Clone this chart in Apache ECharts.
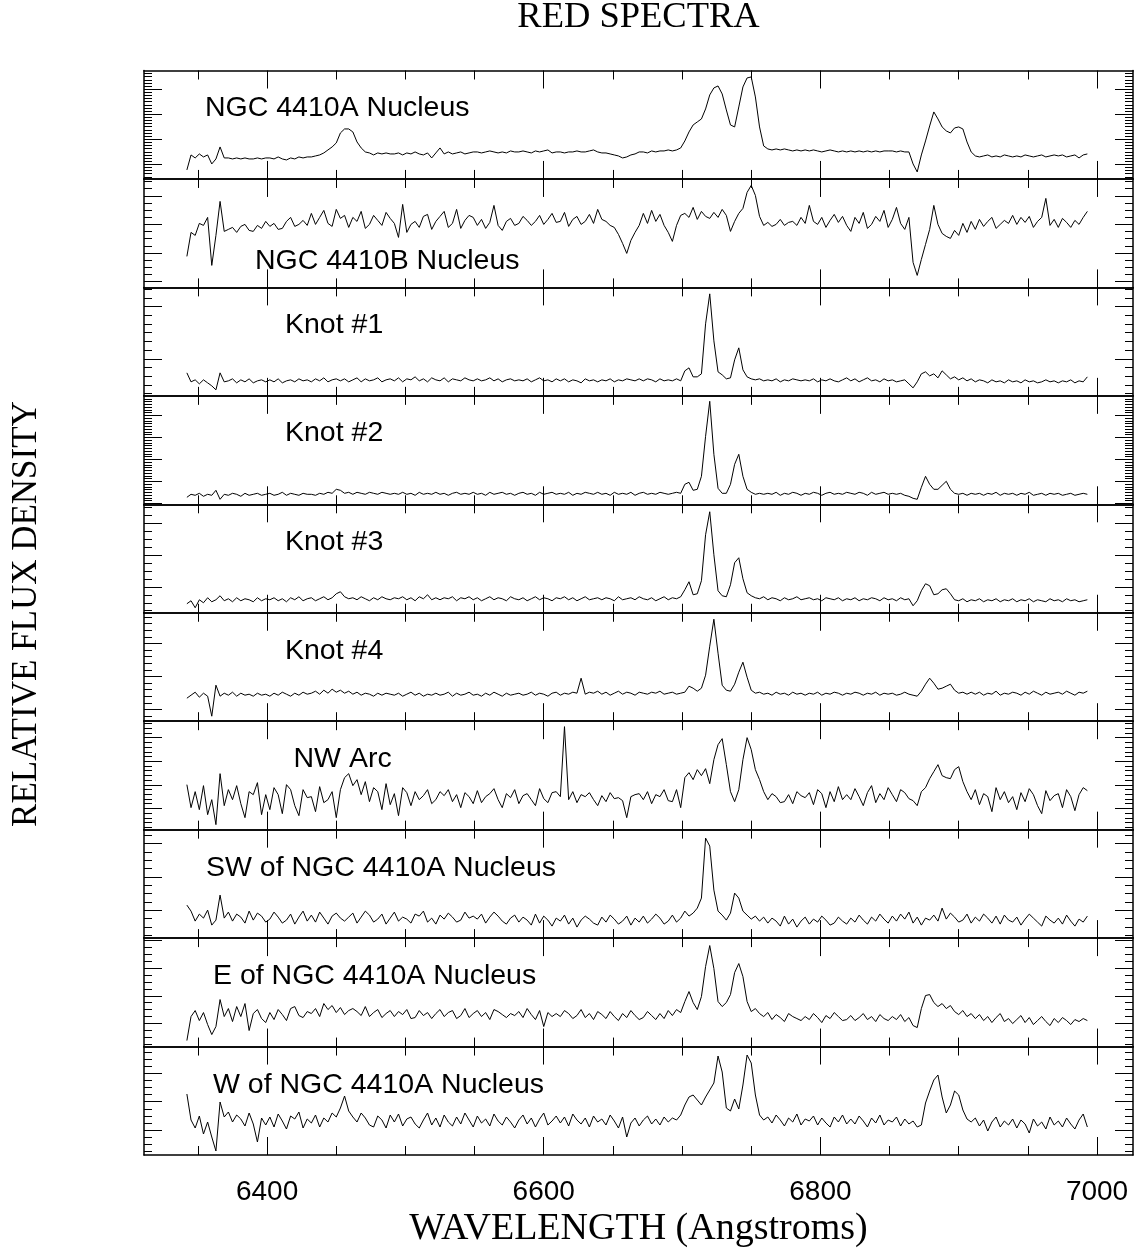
<!DOCTYPE html>
<html>
<head>
<meta charset="utf-8">
<script src="https://cdn.jsdelivr.net/npm/echarts@6/dist/echarts.min.js"></script>
<style>
html,body{margin:0;padding:0;background:#fff;}
#chart{width:1138px;height:1252px;}
</style>
</head>
<body>
<div id="chart"></div>
<script>
// ---------------- DATA ----------------
const chartTitle = 'RED SPECTRA';
const xAxisTitle = 'WAVELENGTH (Angstroms)';
const yAxisTitle = 'RELATIVE FLUX DENSITY';

const wavelengths = [
6342,6345,6348,6351,6354,6357,6360,6363,6366,6369,
6372,6375,6378,6381,6384,6387,6390,6393,6396,6399,
6402,6405,6408,6411,6414,6417,6420,6423,6426,6429,
6432,6435,6438,6441,6444,6447,6450,6453,6456,6459,
6462,6465,6468,6471,6474,6477,6480,6483,6486,6489,
6492,6495,6498,6501,6504,6507,6510,6513,6516,6519,
6522,6525,6528,6531,6534,6537,6540,6543,6546,6549,
6552,6555,6558,6561,6564,6567,6570,6573,6576,6579,
6582,6585,6588,6591,6594,6597,6600,6603,6606,6609,
6612,6615,6618,6621,6624,6627,6630,6633,6636,6639,
6642,6645,6648,6651,6654,6657,6660,6663,6666,6669,
6672,6675,6678,6681,6684,6687,6690,6693,6696,6699,
6702,6705,6708,6711,6714,6717,6720,6723,6726,6729,
6732,6735,6738,6741,6744,6747,6750,6753,6756,6759,
6762,6765,6768,6771,6774,6777,6780,6783,6786,6789,
6792,6795,6798,6801,6804,6807,6810,6813,6816,6819,
6822,6825,6828,6831,6834,6837,6840,6843,6846,6849,
6852,6855,6858,6861,6864,6867,6870,6873,6876,6879,
6882,6885,6888,6891,6894,6897,6900,6903,6906,6909,
6912,6915,6918,6921,6924,6927,6930,6933,6936,6939,
6942,6945,6948,6951,6954,6957,6960,6963,6966,6969,
6972,6975,6978,6981,6984,6987,6990,6993];

const panelLabels = [
'NGC 4410A Nucleus','NGC 4410B Nucleus','Knot #1','Knot #2','Knot #3',
'Knot #4','NW Arc','SW of NGC 4410A Nucleus','E of NGC 4410A Nucleus','W of NGC 4410A Nucleus'];

// relative flux density (arbitrary units, each panel spans 0 .. 108.45)
const nucleusA = [
9,24,21,25,22,24,15,20,32,21,
21,20,21,20,21,20,20,21,20,21,
21,20,22,20,19,21,20,22,21,22,
22,23,24,26,29,32,36,46,50,50,
47,37,31,27,26,24,26,25,26,25,
25,26,24,26,25,27,25,24,26,21,
26,31,25,27,25,26,27,25,26,27,
27,26,27,28,27,26,27,26,28,27,
27,28,27,26,28,27,28,29,26,27,
27,26,27,27,28,27,27,28,29,27,
26,26,25,24,23,21,22,24,25,27,
27,26,28,27,28,28,29,28,29,31,
38,47,54,57,60,70,84,91,93,85,
69,54,52,72,92,101,102,82,52,33,
30,29,30,29,30,29,28,29,28,29,
28,29,28,27,28,29,28,27,28,27,
28,27,28,27,28,27,28,27,28,28,
28,27,28,27,27,15,7,24,38,53,
67,60,52,48,46,51,52,50,37,27,
23,22,23,24,22,23,22,24,23,22,
23,22,24,23,22,23,24,22,23,24,
23,24,22,23,24,21,24,25];

const nucleusB = [
31,55,52,64,62,70,22,52,86,56,
58,60,55,61,63,57,56,62,59,66,
61,64,58,59,66,70,61,63,67,62,
74,63,70,77,64,61,78,69,72,60,
70,66,76,59,63,72,67,62,75,69,
64,50,83,55,63,66,60,71,73,58,
66,71,76,60,64,78,59,67,72,70,
62,68,59,65,82,62,57,66,69,62,
64,71,67,62,66,72,63,68,74,65,
66,75,61,68,71,63,66,73,64,78,
68,66,62,60,53,44,34,47,55,62,
74,64,77,66,73,62,55,46,62,72,
74,70,80,68,76,71,69,75,70,78,
72,56,66,74,79,95,102,92,71,62,
65,61,63,68,62,65,66,62,70,64,
82,66,63,70,60,67,73,65,71,62,
56,70,64,75,59,63,71,66,77,60,
68,80,64,58,70,25,12,28,43,58,
82,63,54,51,49,57,52,64,55,66,
58,68,61,66,70,59,63,67,64,72,
63,70,65,71,60,66,70,89,62,68,
60,69,65,60,67,63,70,76];

const knot1 = [
23,14,16,12,16,13,10,6,23,14,
15,17,13,16,14,17,13,15,16,14,
16,14,17,13,15,16,14,17,15,16,
14,17,15,18,14,16,17,15,17,14,
16,18,14,17,15,16,18,14,16,17,
15,18,14,17,16,19,15,17,14,18,
16,15,18,14,17,16,15,18,16,15,
17,15,16,18,15,17,14,16,17,15,
16,15,17,14,16,18,15,16,14,17,
15,17,14,16,15,13,17,15,16,14,
16,15,17,14,16,15,17,16,15,17,
15,17,16,14,17,15,16,15,17,15,
25,28,19,19,22,72,102,55,24,21,
17,18,36,48,26,19,17,16,17,15,
16,15,17,14,16,15,17,16,15,16,
15,17,14,16,15,17,15,14,16,18,
15,17,14,16,18,15,16,14,17,15,
16,14,15,16,12,8,14,22,24,20,
22,18,25,21,17,19,16,18,15,17,
14,16,15,13,16,14,15,13,16,14,
15,13,16,14,15,13,14,16,14,15,
13,15,14,16,13,15,14,19];

const knot2 = [
7,10,9,11,8,10,9,14,5,10,
9,11,10,8,11,9,10,11,9,10,
11,9,10,12,9,11,10,9,11,10,
10,9,11,10,12,11,15,14,11,12,
10,12,11,10,12,11,10,12,11,10,
11,10,12,10,11,9,12,10,11,10,
12,10,11,9,11,12,10,11,10,12,
10,11,9,12,10,11,12,10,11,9,
11,12,10,11,9,12,10,11,12,10,
11,10,12,9,11,10,12,11,10,12,
10,11,9,12,10,11,10,12,9,11,
12,10,11,10,12,11,10,11,12,11,
20,22,14,15,28,68,103,50,16,11,
11,20,40,50,28,15,12,10,11,10,
11,10,12,9,11,10,12,11,9,11,
10,12,11,9,11,12,10,11,10,12,
11,10,12,11,9,12,10,11,12,10,
11,10,11,9,8,6,5,17,28,20,
15,15,19,23,15,11,10,11,9,11,
10,11,9,11,10,12,9,11,10,11,
9,11,10,12,9,10,11,9,11,10,
11,9,10,11,9,10,11,10];

const knot3 = [
9,12,5,13,10,15,11,13,17,12,
14,11,15,12,14,13,11,15,12,14,
13,15,12,14,11,15,13,16,12,14,
15,12,14,16,13,15,19,21,16,14,
15,13,16,14,12,15,13,16,14,13,
15,14,16,13,15,12,16,14,18,13,
15,13,15,14,16,12,15,14,16,13,
15,12,14,16,13,15,14,12,16,14,
13,15,12,14,16,13,15,14,12,15,
14,16,13,15,12,14,16,13,14,15,
13,15,14,12,16,13,14,15,13,16,
14,13,15,12,14,16,13,15,14,16,
23,31,18,19,32,78,101,58,22,17,
16,28,50,55,34,20,17,15,14,16,
13,15,14,12,15,13,14,16,13,14,
15,13,14,12,15,14,13,15,12,14,
13,15,12,14,13,15,14,12,15,13,
14,12,15,13,14,7,12,22,29,27,
18,19,23,24,19,13,12,14,11,13,
12,14,11,13,12,14,11,13,12,14,
11,13,12,14,11,13,12,11,14,12,
13,11,14,12,13,11,12,13];

const knot4 = [
23,26,29,24,28,25,5,36,25,28,
26,29,25,28,26,27,25,28,26,27,
25,28,26,29,27,25,28,26,29,27,
28,30,27,31,28,32,29,31,28,30,
27,29,26,28,27,25,28,26,28,27,
26,28,25,27,29,26,28,25,27,26,
28,26,27,29,25,28,26,27,29,26,
27,25,28,26,29,27,25,28,26,27,
28,26,27,29,26,28,27,25,28,29,
26,28,27,29,28,43,27,29,28,30,
27,29,26,28,30,27,29,28,26,29,
28,27,29,28,30,27,28,29,27,28,
29,35,33,30,33,46,75,102,68,36,
31,30,37,49,59,44,31,28,29,27,
28,26,29,27,28,26,29,27,28,26,
28,27,29,26,28,27,29,28,26,28,
27,29,28,26,28,27,29,26,28,27,
28,26,27,29,27,26,25,30,37,43,
38,32,33,35,37,31,28,29,27,29,
27,29,26,28,27,30,26,28,27,29,
28,26,29,27,30,28,26,29,27,28,
29,27,30,28,26,29,28,30];

const nwArc = [
45,22,38,20,44,15,30,5,56,24,
40,30,44,26,12,38,35,47,15,35,
20,42,35,16,45,40,24,14,40,32,
33,18,43,27,30,38,12,40,52,56,
44,50,35,48,28,42,38,20,46,25,
36,14,42,37,24,38,30,34,40,26,
30,38,34,40,28,35,22,37,33,26,
39,27,33,36,41,30,22,36,32,40,
26,34,36,30,24,41,31,27,37,38,
33,103,30,38,27,35,33,37,30,24,
34,28,37,31,32,29,12,33,35,36,
30,38,26,35,33,40,29,28,40,22,
52,57,50,60,54,61,46,70,85,91,
65,38,28,40,70,92,80,60,50,38,
30,36,33,27,28,35,26,38,34,32,
37,25,40,36,22,38,28,43,30,35,
30,41,33,24,37,44,27,36,30,42,
35,28,40,37,31,29,24,38,42,51,
58,65,54,52,51,60,63,48,38,30,
40,25,36,33,18,42,30,38,27,33,
20,37,28,41,35,24,16,39,29,34,
36,22,40,33,19,35,42,39];

const swNucleus = [
33,27,17,24,20,28,13,18,43,20,
26,17,24,21,15,27,18,25,22,16,
19,26,21,15,18,24,14,21,27,17,
23,16,26,20,14,22,25,20,17,21,
25,15,21,27,23,16,19,24,14,20,
26,17,21,19,15,24,22,27,16,20,
14,23,19,25,21,16,18,26,20,22,
19,24,15,21,26,22,17,14,20,23,
16,21,18,13,24,15,22,18,12,20,
17,23,14,20,11,18,22,19,15,13,
21,16,23,19,14,17,22,13,20,16,
22,15,19,24,20,14,17,23,16,20,
27,22,25,30,40,100,92,48,27,23,
18,25,45,40,27,23,19,22,17,21,
15,20,17,12,22,14,19,11,17,21,
14,19,16,22,18,13,15,21,17,14,
20,16,23,18,14,21,17,24,19,15,
22,17,24,19,26,15,21,13,20,18,
23,17,30,19,25,21,16,18,24,15,
21,17,24,20,15,22,14,23,18,16,
21,13,19,24,20,16,12,22,18,15,
20,14,23,17,12,19,16,22];

const eNucleus = [
6,30,36,26,34,22,12,20,47,30,
38,25,40,30,43,16,33,37,28,24,
34,27,37,32,26,38,40,31,29,35,
33,38,30,43,37,41,34,39,32,36,
38,35,31,40,30,34,37,29,33,36,
30,35,32,37,28,29,36,31,34,28,
33,37,30,34,36,28,31,38,29,33,
36,30,34,27,37,35,32,29,33,31,
35,29,38,32,27,36,20,34,30,33,
30,36,33,28,31,37,29,33,27,35,
32,28,35,30,26,33,29,36,31,27,
29,35,31,27,33,28,36,31,37,34,
45,55,44,37,50,80,101,78,45,40,
44,52,74,83,70,45,35,38,33,30,
34,27,32,29,25,33,30,28,26,30,
27,33,29,24,31,28,34,30,26,27,
31,26,29,33,27,30,25,32,28,26,
30,27,32,25,29,21,19,38,51,52,
44,40,43,38,41,35,32,36,30,33,
28,32,26,30,24,29,33,25,28,23,
27,31,24,29,22,26,30,25,21,28,
24,29,26,22,27,25,28,26];

const wNucleus = [
61,35,27,39,21,33,18,4,53,38,
43,33,40,36,29,42,31,13,37,30,
38,28,41,34,26,39,36,43,27,36,
32,40,28,37,33,42,38,47,59,44,
38,33,42,37,30,28,39,35,27,40,
33,41,29,36,38,31,27,35,42,30,
37,28,40,33,29,38,31,42,35,28,
39,32,36,29,41,34,30,38,33,27,
35,40,31,37,28,36,42,30,34,39,
32,38,29,41,35,31,37,28,39,33,
36,30,40,34,27,38,18,32,37,29,
35,39,31,36,30,38,33,37,35,40,
50,58,60,55,50,58,65,72,99,83,
47,44,56,46,70,100,92,60,40,35,
38,32,40,35,29,37,33,41,30,36,
34,39,30,37,32,28,38,33,40,31,
36,31,39,34,28,37,32,40,30,35,
33,38,29,36,31,34,28,30,52,64,
75,80,58,42,50,64,60,45,36,33,
37,29,35,24,33,38,28,34,30,36,
27,35,31,22,36,29,33,26,38,30,
34,28,37,31,26,35,41,28];

const xTickMajor = [6400, 6600, 6800, 7000];
const xTickMinor = [6350, 6450, 6500, 6550, 6650, 6700, 6750, 6850, 6900, 6950];
const xTickLabels = ['6400', '6600', '6800', '7000'];

const spectra = [nucleusA, nucleusB, knot1, knot2, knot3, knot4, nwArc, swNucleus, eNucleus, wNucleus];

// ---------------- LAYOUT ----------------
const PLOT_LEFT = 144, PLOT_RIGHT = 1133, PLOT_TOP = 70.5, PANEL_H = 108.45;
const X_MIN = 6311, X_MAX = 7026;
const Y_MAX = 108.45;
const yTickLayout = [
  {first:14.7, step:25, sub:8},
  {first:5.8, step:28.6, sub:4},
  {first:37, step:52.3, sub:6},
  {first:23, step:22, sub:8},
  {first:25.8, step:31.7, sub:4},
  {first:11.7, step:33, sub:5},
  {first:21.2, step:23.6, sub:5},
  {first:28, step:33.3, sub:4},
  {first:23.2, step:27.6, sub:4},
  {first:25, step:28.3, sub:4}
];
const labelPos = [
  [205,108],[255,261],[285,325],[285,433.5],[285,542],
  [285,651],[293.5,759],[206,868],[213,976],[213,1085]
];

function yTicks(spec){
  const maj = [], min = [];
  const ms = spec.step / spec.sub;
  for (let k = -60; k <= 60; k++){
    const v = +(spec.first + k*ms).toFixed(3);
    if (v <= 0.8 || v >= Y_MAX - 0.8) continue;
    if (((k % spec.sub) + spec.sub) % spec.sub === 0) maj.push(v); else min.push(v);
  }
  return {maj, min};
}

const grids = [], xAxes = [], yAxes = [], series = [], graphics = [];
const black = '#000';
const sansFont = '"Liberation Sans", Arial, sans-serif';
const serifFont = '"Liberation Serif", "Times New Roman", serif';
for (let i = 0; i < 10; i++){
  grids.push({left: PLOT_LEFT, width: PLOT_RIGHT - PLOT_LEFT, top: PLOT_TOP + i*PANEL_H, height: PANEL_H, containLabel:false});
  const isLast = (i === 9);
  const baseX = {gridIndex:i, type:'value', min:X_MIN, max:X_MAX, splitLine:{show:false}, axisPointer:{show:false}};
  xAxes.push(Object.assign({}, baseX, {position:'bottom',
    axisLine:{show:true, onZero:false, lineStyle:{color:black, width:1.5}},
    axisTick:{show:true, inside:true, length:18, customValues:xTickMajor, lineStyle:{color:black, width:1}},
    axisLabel:{show:isLast, customValues:xTickMajor, formatter:(v)=>{const j = xTickMajor.indexOf(Math.round(v)); return j>=0 ? xTickLabels[j] : '';},
      color:black, fontSize:28, fontFamily:sansFont, margin:23}}));
  xAxes.push(Object.assign({}, baseX, {position:'bottom',
    axisLine:{show:false, onZero:false},
    axisTick:{show:true, inside:true, length:9, customValues:xTickMinor, lineStyle:{color:black, width:1}},
    axisLabel:{show:false}}));
  xAxes.push(Object.assign({}, baseX, {position:'top',
    axisLine:{show:true, onZero:false, lineStyle:{color:black, width:1.5}},
    axisTick:{show:true, inside:true, length:18, customValues:xTickMajor, lineStyle:{color:black, width:1}},
    axisLabel:{show:false}}));
  xAxes.push(Object.assign({}, baseX, {position:'top',
    axisLine:{show:false, onZero:false},
    axisTick:{show:true, inside:true, length:9, customValues:xTickMinor, lineStyle:{color:black, width:1}},
    axisLabel:{show:false}}));

  const t = yTicks(yTickLayout[i]);
  const baseY = {gridIndex:i, type:'value', min:0, max:Y_MAX, splitLine:{show:false}, axisLabel:{show:false}, axisPointer:{show:false}};
  ['left','right'].forEach(pos => {
    yAxes.push(Object.assign({}, baseY, {position:pos,
      axisLine:{show:true, onZero:false, lineStyle:{color:black, width:1.5}},
      axisTick:{show:true, inside:true, length:18, customValues:t.maj, lineStyle:{color:black, width:1}}}));
    yAxes.push(Object.assign({}, baseY, {position:pos,
      axisLine:{show:false, onZero:false},
      axisTick:{show:true, inside:true, length:8, customValues:t.min, lineStyle:{color:black, width:1}}}));
  });

  series.push({
    type:'line', name: panelLabels[i], xAxisIndex: i*4, yAxisIndex: i*4,
    data: wavelengths.map((w, j) => [w, spectra[i][j]]),
    showSymbol:false, symbol:'none', smooth:false, silent:true, clip:true,
    lineStyle:{color:black, width:1}, animation:false
  });

  graphics.push({type:'text', x: labelPos[i][0], y: labelPos[i][1], silent:true,
    style:{text: panelLabels[i], fill:black, font:'28.5px ' + sansFont,
      textAlign:'left', textVerticalAlign:'middle', align:'left', verticalAlign:'middle'}});
}

graphics.push({type:'text', x: 638.5, y: 17, silent:true,
  style:{text: chartTitle, fill:black, font:'36.5px ' + serifFont, textAlign:'center', textVerticalAlign:'middle', align:'center', verticalAlign:'middle'}});
graphics.push({type:'text', x: 638.5, y: 1229, silent:true,
  style:{text: xAxisTitle, fill:black, font:'38px ' + serifFont, textAlign:'center', textVerticalAlign:'middle', align:'center', verticalAlign:'middle'}});
graphics.push({type:'text', x: 27, y: 614, rotation: Math.PI/2, silent:true,
  style:{text: yAxisTitle, fill:black, font:'35px ' + serifFont, textAlign:'center', textVerticalAlign:'middle', align:'center', verticalAlign:'middle'}});

const chart = echarts.init(document.getElementById('chart'), null, {renderer:'canvas'});
chart.setOption({
  animation:false,
  backgroundColor:'#fff',
  grid: grids,
  xAxis: xAxes,
  yAxis: yAxes,
  series: series,
  graphic: {elements: graphics}
});
</script>
</body>
</html>
